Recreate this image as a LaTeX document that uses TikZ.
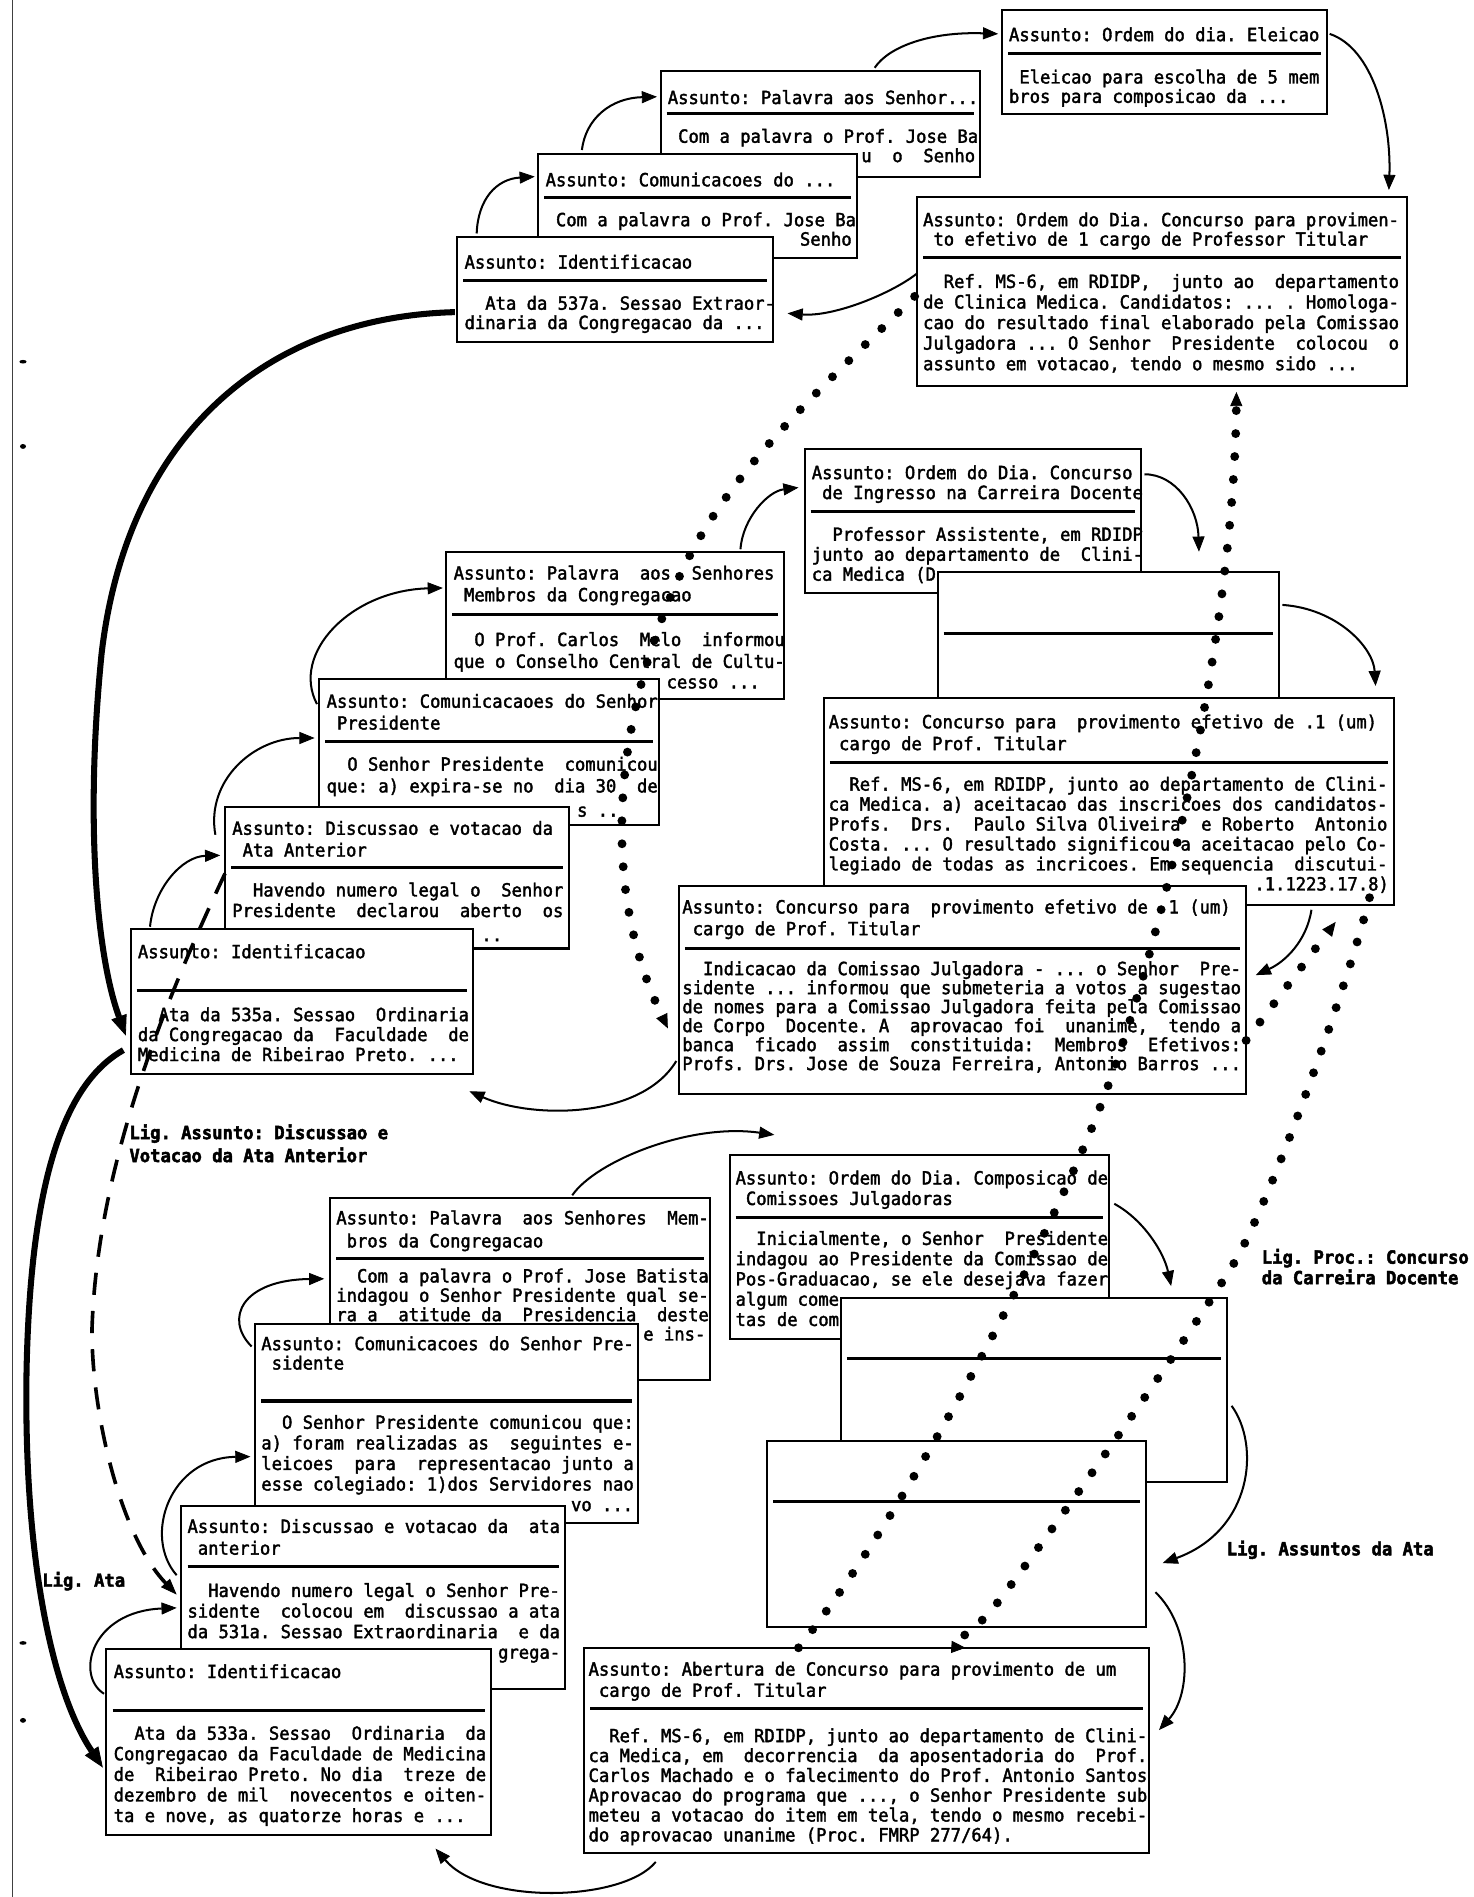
\documentclass[tikz,border=0pt]{standalone}
\usepackage{fontspec}
\usetikzlibrary{arrows.meta,calc}
\newfontfamily\cardfont[FakeStretch=0.947,FakeBold=2]{DejaVu Sans Mono}
\newfontfamily\ligfont[FakeStretch=0.947,FakeBold=2.5]{DejaVu Sans Mono Bold}
\newcommand\cf[1]{\cardfont\fontsize{9pt}{#1pt}\selectfont}
\newcommand\lf[1]{\ligfont\fontsize{9pt}{#1pt}\selectfont}
\newcommand\fs{\rule{0pt}{7pt}}
\tikzset{
  cardframe/.style={draw, fill=white, line width=1pt, anchor=north west, inner sep=0pt, outer sep=0pt},
  sepline/.style={line width=1.5pt},
  txt/.style={anchor=north west, yshift=7pt, inner sep=0pt, outer sep=0pt, align=left},
  partial/.style={inner sep=0pt, outer sep=0pt, font=\cf{10}},
  link/.style={line width=1pt, -{Triangle[length=7.5pt,width=6pt,line width=0.4pt]}},
  atalink/.style={line width=3pt, -{Triangle[length=10pt,width=8pt,line width=0.4pt]}},
  proclink/.style={line width=4.4pt, line cap=round, dash pattern=on 0pt off 11.4pt,
    -{Triangle[length=7pt,width=6pt,line width=0.4pt]}},
  discuss/.style={line width=1.8pt, dash pattern=on 11pt off 8pt,
    -{Triangle[length=8pt,width=6pt,line width=0.4pt]}},
  ligtext/.style={anchor=north west, yshift=7pt, inner sep=0pt, outer sep=0pt, align=left}
}
% card frame with its header rule: name, left, top, right, bottom, rule height
\newcommand\cardbox[6]{%
  \pgfmathsetlengthmacro\cbw{(#4-#2)*0.6pt}%
  \pgfmathsetlengthmacro\cbh{(#5-#3)*0.6pt}%
  \node[cardframe, minimum width=\cbw, minimum height=\cbh] (#1) at (#2,#3) {};
  \draw[sepline] (#2+5,#6) -- (#4-5,#6);
}
\begin{document}
\frenchspacing
\begin{tikzpicture}[x=0.6pt,y=-0.6pt]
\fill[white] (0,0) rectangle (1218,1568);
\useasboundingbox (0,0) rectangle (1218,1568);

% page edge and punch marks
\draw[line width=0.4pt, black!75] (10.5,0) -- (10.5,1568);
\fill (19,299) ellipse (3 and 1.5);
\fill (19,369) ellipse (2.5 and 2);
\fill (19,1358) ellipse (3 and 1.5);
\fill (19,1422) ellipse (2.5 and 2);

% ---------- session 537a ----------
\cardbox{u3}{546}{59}{810}{146}{94}
\node[txt,font=\cf{9.6}] (u3h) at (552,86) {\fs Assunto: Palavra aos Senhor...};
\node[txt,font=\cf{9.6}] (u3b) at (552,118) {\fs~Com a palavra o Prof. Jose Ba};
\node[partial,anchor=base east] (u3r) at (806,134) {u~~o~~Senho};

\cardbox{u2}{445}{127}{708}{213}{163}
\node[txt,font=\cf{9.6}] (u2h) at (451,154) {\fs Assunto: Comunicacoes do ...};
\node[txt,font=\cf{9.6}] (u2b) at (451,187) {\fs~Com a palavra o Prof. Jose Ba};
\node[partial,anchor=base east] (u2r) at (704,203) {Senho};

\cardbox{u1}{378}{196}{639}{283}{232}
\node[txt,font=\cf{9.6}] (u1h) at (384,222) {\fs Assunto: Identificacao};
\node[txt,font=\cf{9.6}] (u1b) at (384,256) {\fs~~Ata da 537a. Sessao Extraor-\\dinaria da Congregacao da ...};

\cardbox{u4}{828}{8}{1097}{94}{44}
\node[txt,font=\cf{9.6}] (u4h) at (834,34) {\fs Assunto: Ordem do dia. Eleicao};
\node[txt,font=\cf{9.6}] (u4b) at (834,69) {\fs~Eleicao para escolha de 5 mem\\bros para composicao da ...};

\cardbox{u5}{758}{163}{1163}{319}{213}
\node[txt,font=\cf{9.6}] (u5h) at (763,187) {\fs Assunto: Ordem do Dia. Concurso para provimen-\\~to efetivo de 1 cargo de Professor Titular};
\node[txt,font=\cf{10.2}] (u5b) at (763,238) {\fs~~Ref. MS-6, em RDIDP,~~junto ao~~departamento\\de Clinica Medica. Candidatos: ... . Homologa-\\cao do resultado final elaborado pela Comissao\\Julgadora ... O Senhor~~Presidente~~colocou~~o\\assunto em votacao, tendo o mesmo sido ...};

% ---------- session 535a ----------
\cardbox{m5}{665}{371}{943}{490}{423}
\node[txt,font=\cf{9.9}] (m5h) at (671,396) {\fs Assunto: Ordem do Dia. Concurso\\~de Ingresso na Carreira Docente};
\node[txt,font=\cf{9.9}] (m5b) at (671,447) {\fs~~Professor Assistente, em RDIDP\\junto ao departamento de~~Clini-\\ca Medica (D};

\cardbox{m6}{775}{473}{1057}{590}{524}

\cardbox{m7}{681}{577}{1152}{748}{630}
\node[txt,font=\cf{10.8}] (m7h) at (685,602) {\fs Assunto: Concurso para~~provimento efetivo de .1 (um)\\~cargo de Prof. Titular};
\node[txt,font=\cf{9.9}] (m7b) at (685,653.5) {\fs~~Ref. MS-6, em RDIDP, junto ao departamento de Clini-\\ca Medica. a) aceitacao das inscricoes dos candidatos-\\Profs.~~Drs.~~Paulo Silva Oliveira~~e Roberto~~Antonio\\Costa. ... O resultado significou a aceitacao pelo Co-\\legiado de todas as incricoes. Em sequencia~~discutui-};
\node[partial,anchor=base east] (m7r) at (1148,736) {.1.1223.17.8)};

\cardbox{m8}{561}{732}{1030}{904}{784}
\node[txt,font=\cf{10.8}] (m8h) at (564,755) {\fs Assunto: Concurso para~~provimento efetivo de~~1 (um)\\~cargo de Prof. Titular};
\node[txt,font=\cf{9.42}] (m8b) at (564,806) {\fs~~Indicacao da Comissao Julgadora - ... o Senhor~~Pre-\\sidente ... informou que submeteria a votos a sugestao\\de nomes para a Comissao Julgadora feita pela Comissao\\de Corpo~~Docente. A~~aprovacao foi~~unanime,~~tendo a\\banca~~ficado~~assim~~constituida:~~Membros~~Efetivos:\\Profs. Drs. Jose de Souza Ferreira, Antonio Barros ...};

\cardbox{m4}{369}{456}{648}{578}{508}
\node[txt,font=\cf{10.8}] (m4h) at (375,479) {\fs Assunto: Palavra~~aos~~Senhores\\~Membros da Congregacao};
\node[txt,font=\cf{10.8}] (m4b) at (375,534) {\fs~~O Prof. Carlos~~Melo~~informou\\que o Conselho Central de Cultu-};
\node[partial,anchor=base west] (m4r) at (551,569) {cesso~...};

\cardbox{m3}{264}{561}{545}{682}{613}
\node[txt,font=\cf{10.8}] (m3h) at (270,585) {\fs Assunto: Comunicacaoes do Senhor\\~Presidente};
\node[txt,font=\cf{10.8}] (m3b) at (270,637) {\fs~~O Senhor Presidente~~comunicou\\que: a) expira-se no~~dia 30~~de};
\node[partial,anchor=base west] (m3r) at (477,675) {s~..};

\cardbox{m2}{186}{667}{470}{784}{717}
\node[txt,font=\cf{10.8}] (m2h) at (192,690) {\fs Assunto: Discussao e votacao da\\~Ata Anterior};
\node[txt,font=\cf{10.2}] (m2b) at (192,741) {\fs~~Havendo numero legal o~~Senhor\\Presidente~~declarou~~aberto~~os};
\node[partial,anchor=base west] (m2r) at (398,778) {..};

\cardbox{m1}{108}{768}{391}{888}{819}
\node[txt,font=\cf{9.9}] (m1h) at (114,792) {\fs Assunto: Identificacao};
\node[txt,font=\cf{9.9}] (m1b) at (114,844) {\fs~~Ata da 535a. Sessao~~Ordinaria\\da Congregacao da~~Faculdade~~de\\Medicina de Ribeirao Preto. ...};

% ---------- session 533a ----------
\cardbox{l5}{603}{955}{917}{1107}{1006}
\node[txt,font=\cf{10.2}] (l5h) at (608,979) {\fs Assunto: Ordem do Dia. Composicao de\\~Comissoes Julgadoras};
\node[txt,font=\cf{10.05}] (l5b) at (608,1029) {\fs~~Inicialmente, o Senhor~~Presidente\\indagou ao Presidente da Comissao de\\Pos-Graduacao, se ele desejava fazer\\algum come\\tas de com};

\cardbox{l6}{695}{1073}{1014}{1225}{1123}
\cardbox{l7}{634}{1191}{947}{1345}{1241}

\cardbox{lb}{483}{1362}{950}{1532}{1412}
\node[txt,font=\cf{10.5}] (lbh) at (486.5,1385) {\fs Assunto: Abertura de Concurso para provimento de um\\~cargo de Prof. Titular};
\node[txt,font=\cf{9.84}] (lbb) at (486.5,1440) {\fs~~Ref. MS-6, em RDIDP, junto ao departamento de Clini-\\ca Medica, em~~decorrencia~~da aposentadoria do~~Prof.\\Carlos Machado e o falecimento do Prof. Antonio Santos\\Aprovacao do programa que ..., o Senhor Presidente sub\\meteu a votacao do item em tela, tendo o mesmo recebi-\\do aprovacao unanime (Proc. FMRP 277/64).};

\cardbox{l4}{273}{990}{587}{1141}{1040}
\node[txt,font=\cf{11.4}] (l4h) at (278,1012) {\fs Assunto: Palavra~~aos Senhores~~Mem-\\~bros da Congregacao};
\node[txt,font=\cf{9.6}] (l4b) at (278,1060) {\fs~~Com a palavra o Prof. Jose Batista\\indagou o Senhor Presidente qual se-\\ra a~~atitude da~~Presidencia~~deste};
\node[partial,anchor=base east] (l4r) at (583,1108) {e~ins-};

\cardbox{l3}{211}{1094}{527}{1259}{1158}
\node[txt,font=\cf{9.6}] (l3h) at (216,1116) {\fs Assunto: Comunicacoes do Senhor Pre-\\~sidente};
\node[txt,font=\cf{10.2}] (l3b) at (216,1181) {\fs~~O Senhor Presidente comunicou que:\\a) foram realizadas as~~seguintes e-\\leicoes~~para~~representacao junto a\\esse colegiado: 1)dos Servidores nao};
\node[partial,anchor=base west] (l3r) at (472,1249) {vo~...};

\cardbox{l2}{150}{1245}{467}{1396}{1295}
\node[txt,font=\cf{10.8}] (l2h) at (155,1267) {\fs Assunto: Discussao e votacao da~~ata\\~anterior};
\node[txt,font=\cf{10.2}] (l2b) at (155,1320) {\fs~~Havendo numero legal o Senhor Pre-\\sidente~~colocou em~~discussao a ata\\da 531a. Sessao Extraordinaria~~e da};
\node[partial,anchor=base east] (l2r) at (463,1371) {grega-};

\cardbox{l1}{88}{1363}{406}{1517}{1414}
\node[txt,font=\cf{10.2}] (l1h) at (94,1387) {\fs Assunto: Identificacao};
\node[txt,font=\cf{10.2}] (l1b) at (94,1438) {\fs~~Ata da 533a. Sessao~~Ordinaria~~da\\Congregacao da Faculdade de Medicina\\de~~Ribeirao Preto. No dia~~treze de\\dezembro de mil~~novecentos e oiten-\\ta e nove, as quatorze horas e ...};

% ---------- subject links within each session ----------
\draw[link] ($(u1.north west)+(16,-3)$) .. controls (395,165) and (410,148) .. ($(u2.north west)+(-3,19)$);
\draw[link] ($(u2.north west)+(36,-3)$) .. controls (484,98) and (505,81) .. ($(u3.north west)+(-3,21)$);
\draw[link] ($(u3.north west)+(177,-3)$) .. controls (735,38) and (770,26) .. ($(u4.north west)+(-3,20)$);
\draw[link] ($(u4.north east)+(2,20)$) .. controls (1135,40) and (1150,100) .. ($(u5.north west)+(390,-6)$);
\draw[link] ($(u5.north west)+(0,63)$) .. controls (738,242) and (690,262) .. ($(u1.north east)+(12,63)$);

\draw[link] ($(m1.north west)+(16,-2)$) .. controls (127,735) and (150,708) .. ($(m2.north west)+(-4,40)$);
\draw[link] ($(m2.north west)+(-8,23)$) .. controls (170,645) and (210,610) .. ($(m3.north west)+(-4,49)$);
\draw[link] ($(m3.north west)+(-2,21)$) .. controls (240,540) and (290,488) .. ($(m4.north west)+(-3,30)$);
\draw[link] ($(m4.north west)+(243,-2)$) .. controls (614,428) and (635,406) .. ($(m5.north west)+(-5,32)$);
\draw[link] ($(m5.north east)+(3,21)$) .. controls (972,392) and (990,420) .. ($(m6.north west)+(216,-17)$);
\draw[link] ($(m6.north east)+(3,27)$) .. controls (1105,503) and (1135,535) .. ($(m7.north west)+(456,-10)$);
\draw[link] ($(m7.south west)+(403,4)$) .. controls (1080,778) and (1062,795) .. ($(m8.north east)+(8,74)$);
\draw[link] ($(m8.north west)+(-2,145)$) .. controls (530,925) and (440,925) .. ($(m1.south east)+(-3,14)$);

\draw[link] ($(l1.north west)+(-2,37)$) .. controls (62,1385) and (75,1332) .. ($(l2.north west)+(-4,84)$);
\draw[link] ($(l2.north west)+(-4,57)$) .. controls (118,1270) and (140,1205) .. ($(l3.north west)+(-4,110)$);
\draw[link] ($(l3.north west)+(-3,19)$) .. controls (185,1090) and (200,1058) .. ($(l4.north west)+(-5,67)$);
\draw[link] ($(l4.north west)+(200,-2)$) .. controls (492,960) and (570,928) .. ($(l5.north west)+(37,-17)$);
\draw[link] ($(l5.north east)+(4,40)$) .. controls (945,1008) and (962,1035) .. ($(l6.north west)+(273,-10)$);
\draw[link] ($(l6.north east)+(4,89)$) .. controls (1042,1195) and (1035,1265) .. ($(l7.north east)+(14,101)$);
\draw[link] ($(l7.north east)+(8,125)$) .. controls (985,1345) and (985,1400) .. ($(lb.north east)+(8,68)$);
\draw[link] ($(lb.south west)+(59,7)$) .. controls (515,1572) and (400,1575) .. ($(l1.south east)+(-46,11)$);

% ---------- links between sessions ----------
\draw[atalink] ($(u1.north west)+(-2,62)$) .. controls (220,262) and (105,360) .. (84,540) .. controls (70,680) and (80,790) .. ($(m1.north west)+(-4,88)$);
\draw[atalink] ($(m1.north west)+(-6,100)$) .. controls (45,900) and (25,1000) .. (22,1130) .. controls (19,1290) and (44,1400) .. ($(l1.north west)+(-3,98)$);
\draw[discuss] ($(m2.north west)+(0,55)$) .. controls (140,820) and (80,960) .. (76,1100) .. controls (76,1170) and (100,1270) .. ($(l2.north west)+(-4,73)$);

% ---------- process links ----------
\draw[proclink] ($(u5.north west)+(-2,82)$) .. controls (680,320) and (600,390) .. (560,480) .. controls (515,580) and (490,720) .. ($(m8.north west)+(-9,118)$);
\draw[proclink] ($(lb.north west)+(177,0)$) .. controls (748,1252) and (861,1036) .. (905,926) .. controls (960,790) and (1020,520) .. ($(u5.south west)+(264,5)$);
\draw[proclink] ($(m7.south east)+(-20,-6)$) .. controls (1115,810) and (1055,980) .. (1023,1039) .. controls (990,1095) and (860,1280) .. (818,1333) .. controls (800,1352) and (782,1361) .. ($(lb.north west)+(315,0)$);
\draw[proclink] ($(m8.north east)+(0,128)$) -- ($(m7.south east)+(-48,14)$);

% ---------- link labels ----------
\node[ligtext,font=\lf{11.4}] (lig1) at (107,941) {\fs Lig. Assunto: Discussao e\\Votacao da Ata Anterior};
\node[ligtext,font=\lf{8.4}] (lig2) at (1043,1044) {\fs Lig. Proc.: Concurso\\da Carreira Docente};
\node[ligtext,font=\lf{10}] (lig3) at (1014,1285) {\fs Lig. Assuntos da Ata};
\node[ligtext,font=\lf{10}] (lig4) at (35,1311) {\fs Lig. Ata};
\end{tikzpicture}
\end{document}
